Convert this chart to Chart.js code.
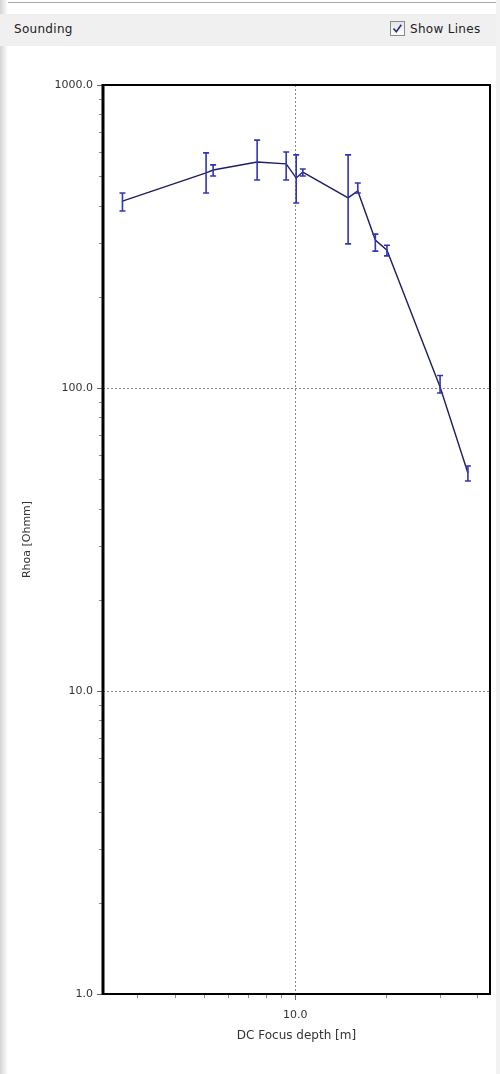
<!DOCTYPE html>
<html><head><meta charset="utf-8">
<script src="https://cdn.jsdelivr.net/npm/chart.js@4.4.1/dist/chart.umd.min.js"></script>
<style>
html,body{margin:0;padding:0;background:#fff;width:500px;height:1074px;overflow:hidden;font-family:"DejaVu Sans",sans-serif;}
#topline{position:absolute;left:0;top:2px;width:500px;height:1px;background:#a8a8a8;}
#leftedge{position:absolute;left:0;top:0;width:8px;height:1074px;background:linear-gradient(to right,#d4d4d4,#ffffff);}
#rightedge{position:absolute;left:496px;top:0;width:4px;height:1074px;background:#f2f2f2;}
#header{position:absolute;left:0;top:14px;width:496px;height:32px;background:#f0f0f0;}
#htitle{position:absolute;left:14px;top:8px;font-size:12px;letter-spacing:0.3px;color:#222;}
#show{position:absolute;left:390px;top:8px;font-size:12px;color:#222;}
#box{position:absolute;left:0;top:-1px;width:13px;height:13px;border:1px solid #8a8a8a;background:linear-gradient(#e4e4ea,#ffffff);}
#box svg{position:absolute;left:1px;top:1px;}
#lbl{position:absolute;left:20px;top:0;white-space:nowrap;letter-spacing:0.3px;}
#wrap{position:absolute;left:0;top:0;width:500px;height:1074px;}
</style></head>
<body>
<div id="topline"></div>
<div id="leftedge"></div>
<div id="rightedge"></div>
<div id="header"><div id="htitle">Sounding</div>
<div id="show"><div id="box"><svg width="11" height="11" viewBox="0 0 11 11"><path d="M1.5 5.5 L4.3 8.8 L9.3 1.8" stroke="#2a2a7a" stroke-width="1.6" fill="none"/></svg></div><div id="lbl">Show Lines</div></div></div>
<div id="wrap"><canvas id="c" width="500" height="1074"></canvas></div>
<script>
// Data
const depth   = [2.69, 5.08, 5.36, 7.49, 9.34, 10.08, 10.6, 14.96, 16.1, 18.4, 20.1, 30.1, 37.2];
const rhoa    = [414, 513, 524, 557, 549, 493, 516, 424, 447, 308, 285, 100.8, 52.4];
const errLow  = [384, 440, 501, 486, 486, 408, 501, 299, 440, 283, 273, 96.3, 49.3];
const errHigh = [440, 597, 545, 658, 601, 588, 528, 588, 475, 322, 296, 110, 55.3];
const yTicks = [1, 10, 100, 1000];
const xTicks = [10];
const xMin = 2.32, xMax = 44, yMin = 1, yMax = 1000;

const points = depth.map((d, i) => ({x: d, y: rhoa[i]}));
const FONT = {family: 'DejaVu Sans', size: 11};

const errorBars = {
  id: 'errorBars',
  afterDatasetsDraw(chart) {
    const {ctx, scales: {x, y}} = chart;
    ctx.save();
    ctx.strokeStyle = '#3434b4';
    ctx.lineWidth = 1.6;
    for (let i = 0; i < depth.length; i++) {
      const px = x.getPixelForValue(depth[i]);
      const yl = y.getPixelForValue(errLow[i]);
      const yh = y.getPixelForValue(errHigh[i]);
      ctx.beginPath();
      ctx.moveTo(px, yl); ctx.lineTo(px, yh);
      ctx.moveTo(px - 3, yl); ctx.lineTo(px + 3, yl);
      ctx.moveTo(px - 3, yh); ctx.lineTo(px + 3, yh);
      ctx.stroke();
    }
    ctx.restore();
  }
};

const frame = {
  id: 'frame',
  afterDraw(chart) {
    const {ctx, chartArea: a, scales: {x, y}} = chart;
    ctx.save();
    ctx.strokeStyle = '#8c8c8c';
    ctx.lineWidth = 1;
    ctx.beginPath();
    for (let dec = 1; dec < 1000; dec *= 10) {
      for (let m = 2; m <= 9; m++) {
        const py = Math.round(y.getPixelForValue(m * dec)) + 0.5;
        ctx.moveTo(a.left - 4, py); ctx.lineTo(a.left, py);
      }
    }
    for (let dec = 1; dec < 100; dec *= 10) {
      for (let m = 1; m <= 9; m++) {
        const v = m * dec;
        if (v <= xMin || v >= xMax || v === 10) continue;
        const px = Math.round(x.getPixelForValue(v)) + 0.5;
        ctx.moveTo(px, a.bottom); ctx.lineTo(px, a.bottom + 4);
      }
    }
    ctx.stroke();
    ctx.strokeStyle = '#000';
    ctx.lineWidth = 2;
    ctx.strokeRect(a.left, a.top, a.right - a.left, a.bottom - a.top);
    ctx.lineWidth = 3;
    ctx.beginPath();
    ctx.moveTo(a.left, a.top - 1); ctx.lineTo(a.left, a.bottom + 1);
    ctx.stroke();
    ctx.restore();
  }
};

new Chart(document.getElementById('c'), {
  type: 'scatter',
  data: {
    datasets: [{
      data: points,
      showLine: true,
      borderColor: '#1e1e66',
      borderWidth: 1.4,
      pointRadius: 0,
      tension: 0
    }]
  },
  options: {
    responsive: false,
    animation: false,
    layout: {padding: {top: 85, right: 10, left: 0, bottom: 0}},
    plugins: {legend: {display: false}, tooltip: {enabled: false}},
    scales: {
      x: {
        type: 'logarithmic', min: xMin, max: xMax,
        afterBuildTicks: s => { s.ticks = xTicks.map(v => ({value: v})); },
        afterFit: s => { s.height = 80; },
        ticks: {callback: v => Number(v).toFixed(1), font: FONT, color: '#333', padding: 9, maxRotation: 0, autoSkip: false},
        grid: {color: '#8a8a8a', tickColor: '#666', tickLength: 6, drawTicks: true, tickBorderDash: []},
        border: {display: false, dash: [2, 2]},
        title: {display: true, text: 'DC Focus depth [m]', font: {family: 'DejaVu Sans', size: 12}, color: '#333', padding: {top: 0, bottom: 31}}
      },
      y: {
        type: 'logarithmic', min: yMin, max: yMax,
        afterBuildTicks: s => { s.ticks = yTicks.map(v => ({value: v})); },
        afterFit: s => { s.width = 103; },
        ticks: {callback: v => Number(v).toFixed(1), font: FONT, color: '#333', padding: 4, autoSkip: false},
        grid: {color: '#8a8a8a', tickColor: '#666', tickLength: 6, drawTicks: true, tickBorderDash: []},
        border: {display: false, dash: [2, 2]},
        title: {display: true, text: 'Rhoa [Ohmm]', font: FONT, color: '#333', padding: {top: 21, bottom: 0}}
      }
    }
  },
  plugins: [errorBars, frame]
});
</script>
</body></html>
